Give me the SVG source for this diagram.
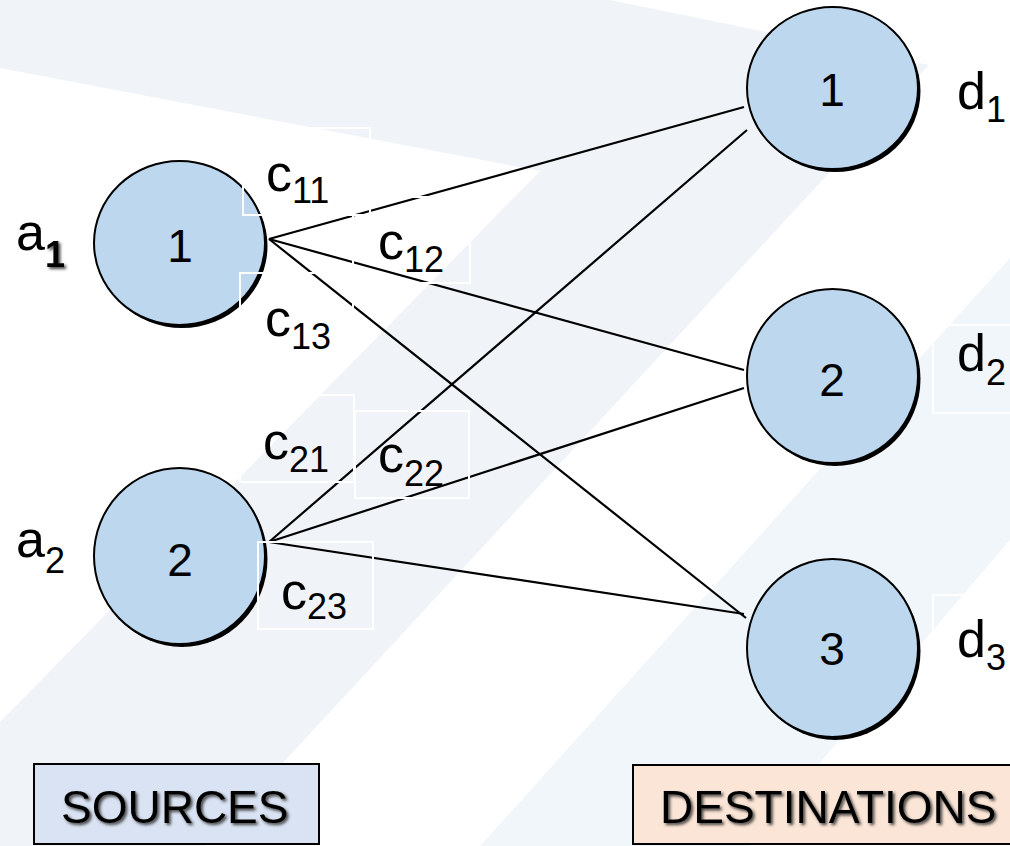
<svg xmlns="http://www.w3.org/2000/svg" width="1010" height="846" viewBox="0 0 1010 846">
<defs>
<style>
.bg1{fill:#f0f4f8}
.bg2{fill:#f1f6fb}
.node{fill:#bdd7ee;stroke:#000;stroke-width:2}
.shadow{fill:#000}
.num{font-family:"Liberation Sans",Arial,sans-serif;font-size:46px;fill:#000;text-anchor:middle}
.lbl{font-family:"Liberation Sans",Arial,sans-serif;font-size:52px;fill:#000}
.sub{font-size:36px}
.edge{stroke:#000;stroke-width:2.2;fill:none}
.tbox{fill:none;stroke:#fff;stroke-width:2}
.legend{font-family:"Liberation Sans",Arial,sans-serif;font-size:46px;fill:#000}
</style>
<filter id="ts" x="-10%" y="-20%" width="130%" height="150%">
<feDropShadow dx="2" dy="2" stdDeviation="1.5" flood-color="#333" flood-opacity="0.9"/>
</filter>
</defs>
<rect x="0" y="0" width="1010" height="846" fill="#fff"/>
<g id="background">
<polygon class="bg1" points="0,0 610,0 929,65 206,846 0,846 0,722 540,171 0,68"/>
<polygon class="bg2" points="1010,258 1010,540 1003,548 749,846 480,846"/>
</g>
<g id="connectors">
<line class="edge" x1="269" y1="239" x2="744" y2="107"/>
<line class="edge" x1="269" y1="239" x2="744" y2="370"/>
<line class="edge" x1="269" y1="239" x2="746" y2="618"/>
<line class="edge" x1="269" y1="542" x2="747" y2="130"/>
<line class="edge" x1="269" y1="542" x2="744" y2="388"/>
<line class="edge" x1="269" y1="542" x2="744" y2="614"/>
</g>
<g id="source1">
<ellipse class="shadow" cx="182" cy="246" rx="85.5" ry="82"/>
<ellipse class="node" cx="179.5" cy="243" rx="85.5" ry="82"/>
<text class="num" x="180" y="262">1</text>
</g>
<g id="source2">
<ellipse class="shadow" cx="182" cy="559" rx="85.5" ry="88"/>
<ellipse class="node" cx="179.5" cy="556" rx="85.5" ry="88"/>
<text class="num" x="180" y="576">2</text>
</g>
<g id="dest1">
<ellipse class="shadow" cx="835" cy="91" rx="85.5" ry="81"/>
<ellipse class="node" cx="832.5" cy="88" rx="85.5" ry="81"/>
<text class="num" x="832" y="106">1</text>
</g>
<g id="dest2">
<ellipse class="shadow" cx="835" cy="379" rx="85.5" ry="87"/>
<ellipse class="node" cx="832.5" cy="376" rx="85.5" ry="87"/>
<text class="num" x="832" y="396">2</text>
</g>
<g id="dest3">
<ellipse class="shadow" cx="835" cy="651" rx="85.5" ry="89"/>
<ellipse class="node" cx="832.5" cy="648" rx="85.5" ry="89"/>
<text class="num" x="832" y="665">3</text>
</g>
<g id="label-boxes">
<rect class="tbox" x="243" y="128" width="127" height="87"/>
<rect class="tbox" x="353" y="197" width="117" height="86"/>
<rect class="tbox" x="240" y="273" width="113" height="87"/>
<rect class="tbox" x="240" y="395" width="114" height="87"/>
<rect class="tbox" x="355" y="411" width="114" height="87"/>
<rect class="tbox" x="258" y="542" width="115" height="87"/>
<rect class="tbox" x="933" y="325" width="100" height="88"/>
<rect class="tbox" x="933" y="595" width="100" height="88"/>
</g>
<g id="labels">
<text class="lbl" x="16" y="250">a<tspan class="sub" font-weight="bold" filter="url(#ts)" dy="17">1</tspan></text>
<text class="lbl" x="16" y="557">a<tspan class="sub" dy="16">2</tspan></text>
<text class="lbl" x="266" y="191">c<tspan class="sub" dy="12">11</tspan></text>
<text class="lbl" x="378" y="259">c<tspan class="sub" dy="13">12</tspan></text>
<text class="lbl" x="265" y="336">c<tspan class="sub" dy="13">13</tspan></text>
<text class="lbl" x="263" y="459">c<tspan class="sub" dy="13">21</tspan></text>
<text class="lbl" x="378" y="472">c<tspan class="sub" dy="14">22</tspan></text>
<text class="lbl" x="281" y="609">c<tspan class="sub" dy="10">23</tspan></text>
<text class="lbl" x="957" y="109">d<tspan class="sub" dy="13">1</tspan></text>
<text class="lbl" x="957" y="371">d<tspan class="sub" dy="14">2</tspan></text>
<text class="lbl" x="957" y="657">d<tspan class="sub" dy="13">3</tspan></text>
</g>
<g id="sources-box">
<rect x="34" y="764" width="285" height="80" fill="#dae3f3" stroke="#000" stroke-width="2"/>
<text class="legend" x="61" y="823" filter="url(#ts)">SOURCES</text>
</g>
<g id="destinations-box">
<rect x="633" y="765" width="400" height="79" fill="#fbe5d6" stroke="#000" stroke-width="2"/>
<text class="legend" x="660" y="823" filter="url(#ts)">DESTINATIONS</text>
</g>
</svg>
